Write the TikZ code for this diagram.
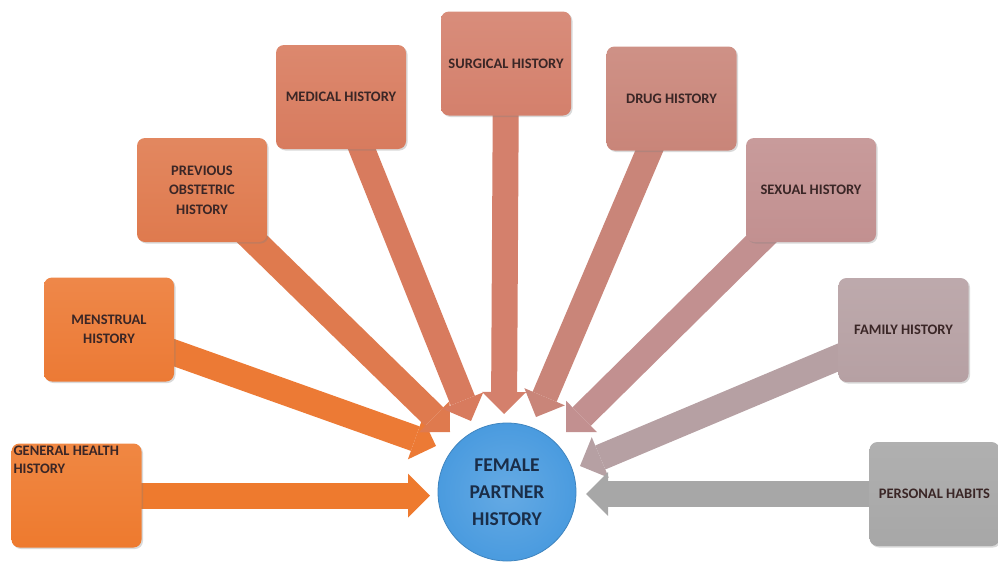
\documentclass[tikz,border=0pt]{standalone}
\usepackage{fontspec}
\setmainfont{Carlito}
\usetikzlibrary{arrows.meta,shadows,backgrounds}

\begin{document}
\begin{tikzpicture}[x=1pt,y=-1pt,
    histbox/.style={rounded corners=8pt,minimum width=130pt,minimum height=104pt,
        top color=#1!90!white,bottom color=#1,inner sep=2pt,
        font=\fontsize{14.5}{19.5}\selectfont\bfseries,text=boxtext,align=center,
        drop shadow={shadow xshift=1.5pt,shadow yshift=-1.5pt,opacity=.3}},
    bigarrow/.style={draw=#1,line width=26pt,
        -{Triangle[length=22pt,width=44pt,line width=0pt]}}]
    \definecolor{boxtext}{HTML}{3A2626}
    \definecolor{col-gh}{HTML}{EE7A2E}
    \definecolor{col-mn}{HTML}{EC7A35}
    \definecolor{col-ob}{HTML}{DF7A4E}
    \definecolor{col-md}{HTML}{D87B5E}
    \definecolor{col-sg}{HTML}{D4806C}
    \definecolor{col-dr}{HTML}{C98579}
    \definecolor{col-sx}{HTML}{C29090}
    \definecolor{col-fm}{HTML}{B6A0A3}
    \definecolor{col-ph}{HTML}{A7A7A7}
    \definecolor{circblue}{HTML}{4A9BDF}
    \definecolor{circtext}{HTML}{1A2D48}
    \useasboundingbox (0,0) rectangle (998,562);
    % the boxes round the centre
    \node[histbox=col-gh,
        label={[anchor=north west,inner sep=2pt,align=left,text=boxtext,
            font=\fontsize{14.5}{18}\selectfont\bfseries]north west:GENERAL HEALTH\\HISTORY}]
        (gh) at (76.5,495.5) {};
    \node[histbox=col-mn] (mn) at (109,329.5) {MENSTRUAL\\HISTORY};
    \node[histbox=col-ob] (ob) at (202,190) {PREVIOUS\\OBSTETRIC\\HISTORY};
    \node[histbox=col-md] (md) at (341,97) {MEDICAL HISTORY};
    \node[histbox=col-sg] (sg) at (506,63.5) {SURGICAL HISTORY};
    \node[histbox=col-dr] (dr) at (671.5,98.5) {DRUG HISTORY};
    \node[histbox=col-sx] (sx) at (811,190) {SEXUAL HISTORY};
    \node[histbox=col-fm] (fm) at (903.5,330) {FAMILY HISTORY};
    \node[histbox=col-ph] (ph) at (934.5,494) {PERSONAL HABITS};
    % centre
    \node[circle,minimum size=138pt,inner color=circblue!85!white,outer color=circblue,
        draw=circblue!85!black,line width=0.8pt,align=center,text=circtext,
        font=\fontsize{19.5}{27}\selectfont\bfseries] (fph) at (507,492) {FEMALE\\PARTNER\\HISTORY};
    % arrow tips
    \coordinate (t-gh) at (430,495.5);
    \coordinate (t-mn) at (436,446);
    \coordinate (t-ob) at (450,432);
    \coordinate (t-md) at (471,421);
    \coordinate (t-sg) at (504,414);
    \coordinate (t-dr) at (536,417);
    \coordinate (t-sx) at (566,432);
    \coordinate (t-fm) at (580,466);
    \coordinate (t-ph) at (586,494);
    \begin{scope}[on background layer]
        \foreach \n in {gh,mn,ob,md,sg,dr,sx,fm,ph}
            \draw[bigarrow=col-\n] (\n.center) -- (t-\n);
    \end{scope}
\end{tikzpicture}
\end{document}
